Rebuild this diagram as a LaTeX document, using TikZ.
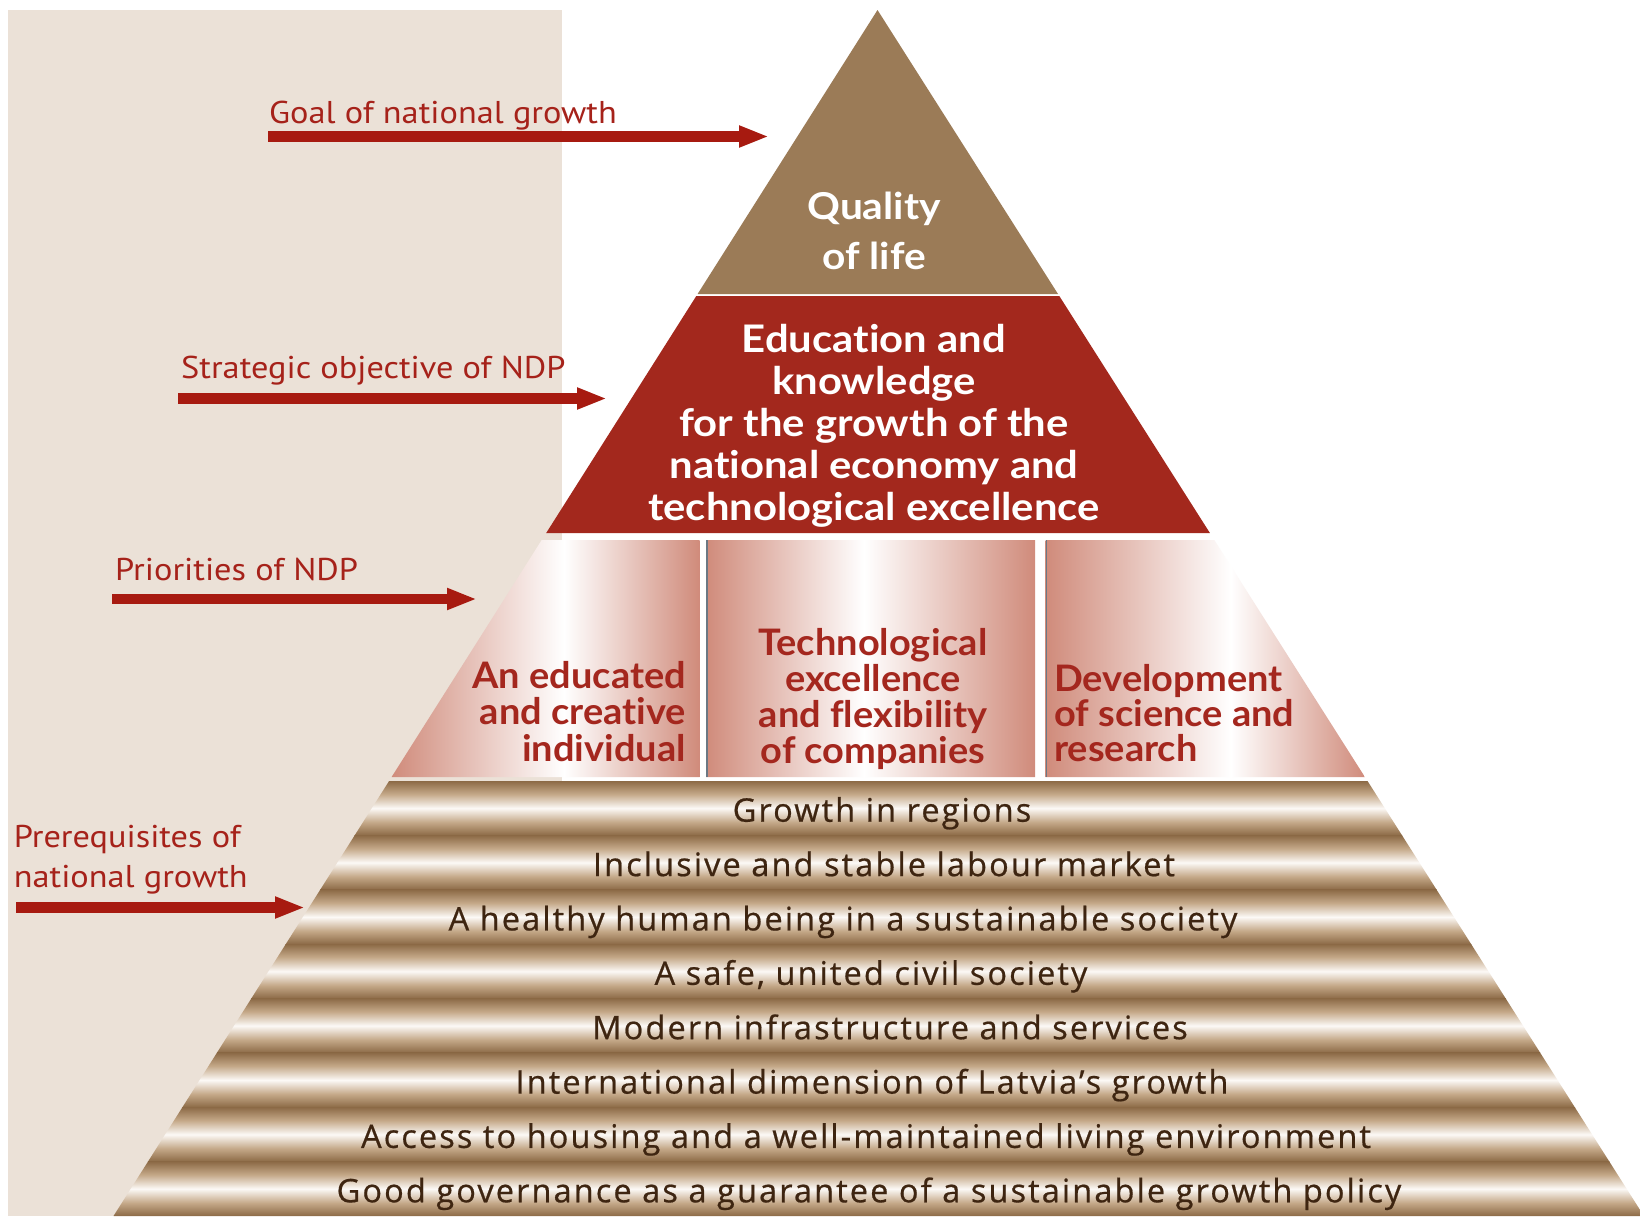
\documentclass[tikz,border=0pt]{standalone}
\usepackage{fontspec}
\setmainfont{Open Sans}
\newfontfamily\labfont{PT Sans}[FakeStretch=1.09]
\newfontfamily\headfont{Lato}[FakeStretch=1.1,Ligatures={NoCommon,NoDiscretionary}]
\newfontfamily\prifont{Lato}[FakeStretch=1.04,Ligatures={NoCommon,NoDiscretionary}]
\newfontfamily\bandfont{Open Sans}[LetterSpace=6.5,FakeBold=0.6]
\usetikzlibrary{arrows.meta}
\definecolor{beige}{HTML}{EBE1D7}
\definecolor{topbrown}{HTML}{9B7B57}
\definecolor{redsec}{HTML}{A3281D}
\definecolor{arrowred}{HTML}{A71A10}
\definecolor{labred}{HTML}{A6221A}
\definecolor{prired}{HTML}{A4271E}
\definecolor{salm}{HTML}{D08B7B}
\definecolor{bdark}{HTML}{8C6A46}
\definecolor{bmid}{HTML}{C4A888}
\definecolor{bwhite}{HTML}{FCF9F6}
\definecolor{btext}{HTML}{3E2511}
\definecolor{divgray}{HTML}{6C7884}
\pgfdeclareverticalshading{bandsh}{100bp}{color(0bp)=(bdark); color(25bp)=(bdark); color(37bp)=(bmid); color(50bp)=(bwhite); color(63bp)=(bmid); color(75bp)=(bdark); color(100bp)=(bdark)}
\pgfdeclarehorizontalshading{colAsh}{100bp}{color(0bp)=(salm); color(25bp)=(salm); color(53bp)=(white); color(75bp)=(salm); color(100bp)=(salm)}
\pgfdeclarehorizontalshading{colBsh}{100bp}{color(0bp)=(salm); color(25bp)=(salm); color(49bp)=(white); color(75bp)=(salm); color(100bp)=(salm)}
\pgfdeclarehorizontalshading{colCsh}{100bp}{color(0bp)=(salm); color(25bp)=(salm); color(54bp)=(white); color(75bp)=(salm); color(100bp)=(salm)}
\begin{document}
\begin{tikzpicture}[x=1pt,y=-1pt,
  lbl/.style={inner sep=0pt, text=labred, font=\labfont\fontsize{31.5}{40}\selectfont},
  lblarrow/.style={arrowred, line width=10.5pt, -{Triangle[length=30pt,width=20pt]}},
  bandtxt/.style={inner sep=0pt, text=btext, font=\bandfont\fontsize{32.5}{36}\selectfont},
  headtxt/.style={inner sep=0pt, text=white, font=\headfont\bfseries\fontsize{38}{42}\selectfont},
  pritxt/.style={inner sep=0pt, text=prired, font=\prifont\bfseries\fontsize{36.5}{36.5}\selectfont}]
\useasboundingbox (0,0) rectangle (1640,1216);
\fill[white] (0,0) rectangle (1640,1216);
\fill[beige] (8,10) rectangle (561.5,1216);
% top levels
\fill[topbrown] (877.5,10) -- (1058.0,294) -- (697.6,294) -- cycle;
\fill[redsec] (696.3,296) -- (1059.3,296) -- (1209.9,533) -- (546.2,533) -- cycle;
% priorities
\begin{scope}
  \clip (541.7,540) -- (1214.3,540) -- (1364.9,777) -- (391.6,777) -- cycle;
  \shade[shading=colAsh] (391.6,540) rectangle (699.5,777);
  \shade[shading=colBsh] (706,540) rectangle (1035,777);
  \shade[shading=colCsh] (1045.5,540) rectangle (1364.9,777);
  \draw[divgray, line width=1.8pt] (706.9,540) -- (706.9,777);
  \draw[divgray, line width=1.8pt] (1046.4,540) -- (1046.4,777);
\end{scope}
% prerequisite bands
\begin{scope}
  \clip (389.1,781) -- (1367.5,781) -- (1643.9,1216) -- (113.5,1216) -- cycle;
  \foreach \i in {0,...,7}
    \shade[shading=bandsh] (100,{781+54.375*\i}) rectangle (1650,{781+54.375*(\i+1)});
\end{scope}
% texts in pyramid (anchor base = baseline of last line)
\node[headtxt, align=center, anchor=base, font=\headfont\bfseries\fontsize{37}{50}\selectfont] (qol) at (874,269) {Quality\\of life};
\node[headtxt, align=center, anchor=base] (edu) at (874,520) {Education and\\knowledge\\for the growth of the\\national economy and\\technological excellence};
\node[pritxt, align=right, anchor=base east] (p1) at (686,761) {An educated\\and creative\\individual};
\node[pritxt, align=center, anchor=base, font=\prifont\bfseries\fontsize{36.5}{35.7}\selectfont] (p2) at (873,763) {Technological\\excellence\\and flexibility\\of companies};
\node[pritxt, align=left, anchor=base west, font=\prifont\bfseries\fontsize{36.5}{35}\selectfont] (p3) at (1054,761) {Development\\of science and\\research};
\node[bandtxt, anchor=base] (r1) at (882,821.7) {Growth in regions};
\node[bandtxt, anchor=base] (r2) at (884,876.1) {Inclusive and stable labour market};
\node[bandtxt, anchor=base] (r3) at (843,930.4) {A healthy human being in a sustainable society};
\node[bandtxt, anchor=base] (r4) at (871,984.8) {A safe, united civil society};
\node[bandtxt, anchor=base] (r5) at (890,1039.2) {Modern infrastructure and services};
\node[bandtxt, anchor=base] (r6) at (872,1093.6) {International dimension of Latvia’s growth};
\node[bandtxt, anchor=base] (r7) at (866,1147.9) {Access to housing and a well-maintained living environment};
\node[bandtxt, anchor=base] (r8) at (869,1202.3) {Good governance as a guarantee of a sustainable growth policy};
% left labels and arrows
\node[lbl, anchor=base west] (lgoal) at (269,123.5) {Goal of national growth};
\coordinate (gs) at (268,136.5); \coordinate (ge) at (769,136.5);
\draw[lblarrow] (gs) -- (ge);
\node[lbl, anchor=base west] (lstrat) at (181,378.6) {Strategic objective of NDP};
\coordinate (ss) at (178,398.5); \coordinate (se) at (607,398.5);
\draw[lblarrow] (ss) -- (se);
\node[lbl, anchor=base west] (lprio) at (115,580.5) {Priorities of NDP};
\coordinate (ps) at (112,599); \coordinate (pe) at (477,599);
\draw[lblarrow] (ps) -- (pe);
\node[lbl, anchor=base west, align=left] (lpre) at (13.6,887) {Prerequisites of\\national growth};
\coordinate (qs) at (16,907.5); \coordinate (qe) at (305,907.5);
\draw[lblarrow] (qs) -- (qe);
\end{tikzpicture}
\end{document}
